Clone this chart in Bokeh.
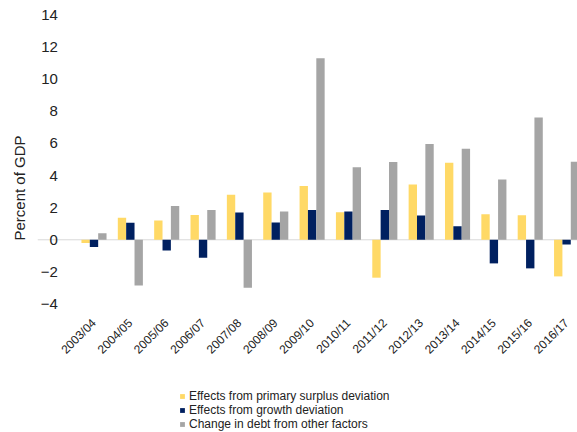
import math
from bokeh.plotting import figure
from bokeh.models import (ColumnDataSource, Range1d, FixedTicker, Span, Legend,
                          LegendItem, Title)
from bokeh.core.properties import value
from bokeh.transform import dodge
from bokeh.embed import file_html
from bokeh.resources import INLINE

categories = ["2003/04", "2004/05", "2005/06", "2006/07", "2007/08", "2008/09",
              "2009/10", "2010/11", "2011/12", "2012/13", "2013/14", "2014/15",
              "2015/16", "2016/17"]
primary_surplus = [-0.2, 1.37, 1.2, 1.55, 2.81, 2.94, 3.35, 1.71, -2.36, 3.45,
                   4.8, 1.59, 1.53, -2.28]
growth = [-0.45, 1.06, -0.66, -1.12, 1.7, 1.07, 1.86, 1.76, 1.86, 1.51, 0.85,
          -1.47, -1.78, -0.29]
other_factors = [0.41, -2.84, 2.11, 1.86, -2.98, 1.76, 11.3, 4.51, 4.84, 5.96,
                 5.67, 3.76, 7.61, 4.86]
y_ticks = [-4, -2, 0, 2, 4, 6, 8, 10, 12, 14]
series_names = ["Effects from primary surplus deviation",
                "Effects from growth deviation",
                "Change in debt from other factors"]
colors = ["#FFD966", "#002060", "#A5A5A5"]

FONT = "Liberation Sans"
TXT = "#222222"

xs = list(range(len(categories)))
src = ColumnDataSource(dict(x=xs, cat=categories, primary=primary_surplus,
                            growth=growth, other=other_factors))

p = figure(width=577, height=432, output_backend="svg", toolbar_location=None,
           x_range=Range1d(-1.554, 13.30), y_range=Range1d(-12.0, 14.90),
           x_axis_location=None,
           min_border_left=36, min_border_right=0, min_border_top=0,
           min_border_bottom=0)
p.outline_line_color = None
p.xgrid.grid_line_color = None
p.ygrid.grid_line_color = None
p.background_fill_color = "white"
p.border_fill_color = "white"

p.add_layout(Span(location=0, dimension="width", line_color="#D9D9D9",
                  line_width=1, level="underlay"))

bw = 0.23
r1 = p.vbar(x=dodge("x", -bw), top="primary", bottom=0, width=bw, source=src,
            fill_color=colors[0], line_color=None)
r2 = p.vbar(x=dodge("x", 0), top="growth", bottom=0, width=bw, source=src,
            fill_color=colors[1], line_color=None)
r3 = p.vbar(x=dodge("x", bw), top="other", bottom=0, width=bw, source=src,
            fill_color=colors[2], line_color=None)

# category labels under the bottom of the value scale
p.text(x="x", y=y_ticks[0], text="cat", source=src, angle=math.pi / 4,
       text_align="right", text_baseline="middle", x_offset=0, y_offset=17,
       text_font=value(FONT), text_font_size="12px", text_color=TXT)

# y axis, drawn at the left edge of the first category
ya = p.yaxis[0]
ya.fixed_location = -0.5
ya.ticker = FixedTicker(ticks=y_ticks)
ya.axis_line_color = None
ya.major_tick_line_color = None
ya.minor_tick_line_color = None
ya.major_label_standoff = 12
ya.major_label_text_font = FONT
ya.major_label_text_font_size = "15px"
ya.major_label_text_color = TXT

# y title
p.add_layout(Title(text="Percent of GDP", align="left", offset=192,
                   vertical_align="middle", standoff=18, text_font=FONT,
                   text_font_size="15px", text_font_style="normal",
                   text_color=TXT), "left")

legend = Legend(items=[LegendItem(label=series_names[0], renderers=[r1]),
                       LegendItem(label=series_names[1], renderers=[r2]),
                       LegendItem(label=series_names[2], renderers=[r3])],
                location=(142, 1), orientation="vertical", margin=0, padding=0,
                spacing=0, label_height=14, glyph_height=6, glyph_width=6,
                label_standoff=4, label_text_font=FONT,
                label_text_font_size="12px", label_text_color=TXT,
                border_line_color=None, background_fill_alpha=0)
p.add_layout(legend, "center")

open("out.html", "w").write(file_html(p, INLINE))
